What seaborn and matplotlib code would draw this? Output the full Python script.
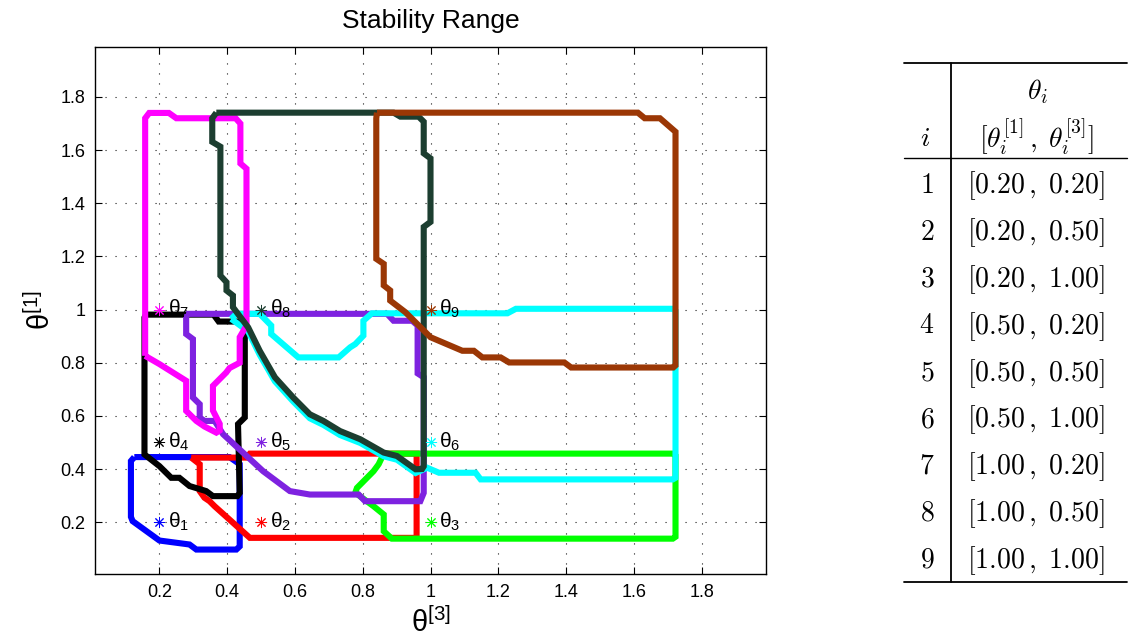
import numpy as np
import pandas as pd
import matplotlib
matplotlib.use("Agg")
import matplotlib.pyplot as plt
import seaborn as sns

# ---- stability regions: vertices in (theta^[3], theta^[1]) ----
r1_t3 = [0.126, 0.407, 0.437, 0.437, 0.427, 0.309, 0.289, 0.200, 0.121, 0.116, 0.116, 0.126]
r1_t1 = [0.445, 0.445, 0.418, 0.109, 0.097, 0.097, 0.116, 0.131, 0.204, 0.220, 0.430, 0.445]

r2_t3 = [0.294, 0.457, 0.467, 0.959, 0.959, 0.467, 0.363, 0.348, 0.333, 0.319, 0.319, 0.294]
r2_t1 = [0.443, 0.443, 0.458, 0.458, 0.141, 0.141, 0.260, 0.279, 0.292, 0.317, 0.418, 0.443]

r3_t3 = [0.862, 1.715, 1.723, 1.723, 1.715, 0.886, 0.862, 0.862, 0.832, 0.798, 0.778, 0.783,
         0.832, 0.847, 0.862]
r3_t1 = [0.458, 0.458, 0.450, 0.145, 0.138, 0.138, 0.166, 0.229, 0.260, 0.292, 0.311, 0.329,
         0.392, 0.418, 0.458]

r4_t3 = [0.160, 0.360, 0.375, 0.440, 0.452, 0.452, 0.432, 0.437, 0.430, 0.358, 0.338, 0.289,
         0.259, 0.235, 0.200, 0.156, 0.156, 0.160]
r4_t1 = [0.981, 0.981, 0.955, 0.955, 0.945, 0.594, 0.569, 0.310, 0.298, 0.298, 0.317, 0.336,
         0.367, 0.367, 0.411, 0.455, 0.970, 0.981]

r5_t3 = [0.279, 0.872, 0.891, 0.946, 0.962, 0.962, 0.980, 0.980, 0.970, 0.807, 0.788, 0.644,
         0.585, 0.506, 0.388, 0.363, 0.333, 0.319, 0.319, 0.299, 0.299, 0.279, 0.279]
r5_t1 = [0.984, 0.984, 0.958, 0.958, 0.940, 0.760, 0.745, 0.310, 0.279, 0.279, 0.304, 0.304,
         0.317, 0.392, 0.531, 0.581, 0.581, 0.594, 0.644, 0.669, 0.889, 0.908, 0.984]

r6_t3 = [0.412, 0.427, 0.496, 0.530, 0.530, 0.610, 0.729, 0.763, 0.778, 0.802, 0.802, 0.827,
         1.227, 1.252, 1.715, 1.723, 1.723, 1.715, 1.148, 1.133, 1.025, 0.990, 0.956, 0.901,
         0.862, 0.793, 0.733, 0.684, 0.644, 0.595, 0.541, 0.496, 0.462, 0.412]
r6_t1 = [0.965, 0.984, 0.984, 0.940, 0.908, 0.820, 0.820, 0.858, 0.870, 0.902, 0.958, 0.986,
         0.986, 1.003, 1.003, 0.995, 0.367, 0.361, 0.361, 0.386, 0.386, 0.405, 0.385, 0.435,
         0.448, 0.498, 0.528, 0.566, 0.591, 0.654, 0.730, 0.830, 0.918, 0.965]

r7_t3 = [0.158, 0.158, 0.170, 0.228, 0.250, 0.425, 0.439, 0.439, 0.457, 0.457, 0.437, 0.437,
         0.407, 0.397, 0.358, 0.358, 0.378, 0.378, 0.368, 0.333, 0.309, 0.279, 0.279, 0.200,
         0.158]
r7_t1 = [0.826, 1.720, 1.740, 1.740, 1.720, 1.720, 1.700, 1.550, 1.530, 0.940, 0.896, 0.800,
         0.780, 0.763, 0.713, 0.620, 0.570, 0.545, 0.537, 0.560, 0.581, 0.619, 0.732, 0.795,
         0.826]

r8_t3 = [0.368, 0.891, 0.911, 0.965, 0.980, 0.980, 1.000, 1.000, 0.980, 0.980, 0.975, 0.956,
         0.901, 0.862, 0.793, 0.733, 0.684, 0.644, 0.595, 0.541, 0.496, 0.462, 0.417, 0.417,
         0.398, 0.398, 0.380, 0.380, 0.356, 0.356, 0.368]
r8_t1 = [1.741, 1.741, 1.726, 1.726, 1.707, 1.588, 1.569, 1.330, 1.311, 0.410, 0.400, 0.399,
         0.449, 0.462, 0.512, 0.543, 0.581, 0.606, 0.669, 0.745, 0.845, 0.933, 1.009, 1.053,
         1.072, 1.103, 1.128, 1.613, 1.631, 1.720, 1.741]

r9_t3 = [0.842, 1.612, 1.632, 1.677, 1.723, 1.723, 1.716, 1.415, 1.395, 1.232, 1.207, 1.153,
         1.128, 1.094, 1.059, 1.000, 0.926, 0.881, 0.881, 0.862, 0.862, 0.840, 0.840, 0.842]
r9_t1 = [1.741, 1.741, 1.720, 1.720, 1.669, 0.790, 0.782, 0.782, 0.801, 0.801, 0.820, 0.820,
         0.845, 0.845, 0.864, 0.896, 0.990, 1.034, 1.072, 1.091, 1.172, 1.191, 1.720, 1.741]

# ---- nominal operating points theta_i = [theta^[1], theta^[3]] ----
point_ids = [1, 2, 3, 4, 5, 6, 7, 8, 9]
point_t1 = [0.20, 0.20, 0.20, 0.50, 0.50, 0.50, 1.00, 1.00, 1.00]
point_t3 = [0.20, 0.50, 1.00, 0.20, 0.50, 1.00, 0.20, 0.50, 1.00]

region_colors = ["#0000ff", "#ff0000", "#00ff00", "#000000", "#7e22e0",
                 "#00ffff", "#ff00ff", "#1c3e30", "#9b3705"]

tick_values = [0.2, 0.4, 0.6, 0.8, 1.0, 1.2, 1.4, 1.6, 1.8]
tick_labels = ["0.2", "0.4", "0.6", "0.8", "1", "1.2", "1.4", "1.6", "1.8"]

regions = [(r1_t3, r1_t1), (r2_t3, r2_t1), (r3_t3, r3_t1), (r4_t3, r4_t1), (r5_t3, r5_t1),
           (r6_t3, r6_t1), (r7_t3, r7_t1), (r8_t3, r8_t1), (r9_t3, r9_t1)]

sns.set_theme(style="white")
plt.rcParams["font.family"] = ["Liberation Sans", "DejaVu Sans"]
plt.rcParams["mathtext.fontset"] = "custom"
plt.rcParams["mathtext.rm"] = "Liberation Sans"
plt.rcParams["mathtext.it"] = "Liberation Sans:italic"
plt.rcParams["mathtext.bf"] = "Liberation Sans:bold"
plt.rcParams["text.color"] = "black"
plt.rcParams["axes.labelcolor"] = "black"

W, H = 1132, 639
fig = plt.figure(figsize=(W / 100, H / 100), dpi=100)
fig.patch.set_facecolor("white")

# main axes
ax = fig.add_axes([95 / W, (H - 574) / H, (766 - 95) / W, (574 - 46.5) / H])
ax.set_facecolor("white")

for k, (xs, ys) in enumerate(regions):
    df = pd.DataFrame({"t3": xs, "t1": ys})
    sns.lineplot(data=df, x="t3", y="t1", sort=False, estimator=None, ax=ax,
                 color=region_colors[k], linewidth=4.4, solid_joinstyle="miter",
                 solid_capstyle="butt", zorder=2 + k)

for k in range(len(point_ids)):
    ax.plot(point_t3[k], point_t1[k], linestyle="none", marker=(8, 2, 0), markersize=8,
            markeredgewidth=0.7, color=region_colors[k], zorder=20)
    ax.text(point_t3[k] + 0.025, point_t1[k] - 0.02, r"$\mathrm{θ}_{%d}$" % point_ids[k],
            fontsize=15, ha="left", va="baseline", color="black", zorder=21)

ax.set_xlim(0.01, 1.99)
ax.set_ylim(0.005, 1.99)
ax.set_xticks(tick_values)
ax.set_xticklabels(tick_labels)
ax.set_yticks(tick_values)
ax.set_yticklabels(tick_labels)
ax.tick_params(axis="both", direction="in", length=5, width=0.8, labelsize=13,
               top=True, right=True, bottom=True, left=True, colors="black", pad=7)
ax.grid(True, linestyle=(0, (1, 8)), color="black", linewidth=0.8, alpha=0.9)
for sp in ax.spines.values():
    sp.set_color("black")
    sp.set_linewidth(1.0)
ax.set_xlabel(r"$\mathrm{θ}^{[3]}$", fontsize=21, labelpad=5, color="black")
ax.set_ylabel(r"$\mathrm{θ}^{[1]}$", fontsize=21, labelpad=3, color="black")
ax.set_title("Stability Range", fontsize=19, pad=13, color="black")

# ---- table of operating points ----
tab = fig.add_axes([0, 0, 1, 1], zorder=-1)
tab.set_xlim(0, W)
tab.set_ylim(H, 0)
tab.axis("off")

rule_left, rule_right = 904, 1127
tab.plot([rule_left, rule_right], [63, 63], color="black", linewidth=1.3)
tab.plot([rule_left, rule_right], [158, 158], color="black", linewidth=1.0)
tab.plot([rule_left, rule_right], [582, 582], color="black", linewidth=1.3)
tab.plot([951, 951], [63, 582], color="black", linewidth=1.3)

cm_kw = dict(math_fontfamily="cm", fontsize=20, color="black")
tab.text(1037, 92, r"$\theta_i$", ha="center", va="center", **cm_kw)
tab.text(925, 139, r"$i$", ha="center", va="center", **cm_kw)
tab.text(1036, 137, r"$[\theta_i^{[1]}\,,\;\theta_i^{[3]}]$", ha="center", va="center", **cm_kw)

row_y0, row_step = 186, 46.8
for k in range(len(point_ids)):
    yy = row_y0 + row_step * k
    tab.text(927, yy, r"$%d$" % point_ids[k], ha="center", va="center", **cm_kw)
    tab.text(1036, yy, r"$[%.2f\,,\ %.2f]$" % (point_t1[k], point_t3[k]),
             ha="center", va="center", **cm_kw)

fig.savefig("out.png", dpi=100, facecolor="white")
